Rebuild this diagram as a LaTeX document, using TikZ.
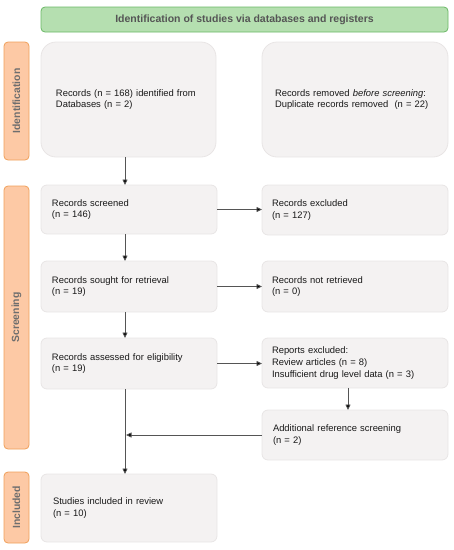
\documentclass[tikz,border=0pt]{standalone}
\usepackage{fontspec}
\setmainfont{Liberation Sans}
\usetikzlibrary{arrows.meta,calc}
\definecolor{boxfill}{HTML}{F4F2F2}
\definecolor{boxline}{HTML}{E8E5E5}
\definecolor{hdrfill}{HTML}{B5DFB0}
\definecolor{hdrline}{HTML}{6AB866}
\definecolor{sidefill}{HTML}{FDC9A5}
\definecolor{sideline}{HTML}{F0A05A}
\definecolor{lbl}{HTML}{555555}
\definecolor{arr}{HTML}{555555}
\begin{document}
\begin{tikzpicture}[x=1pt,y=-1pt,
  box/.style={draw=boxline, fill=boxfill, line width=0.8pt, rounded corners=6pt,
    anchor=north west, align=left, inner ysep=0pt, outer sep=0pt,
    font=\fontsize{9.4}{11.7}\selectfont, text=black!90},
  side/.style={draw=sideline, fill=sidefill, line width=0.8pt, rounded corners=4pt},
  sidetxt/.style={rotate=90, font=\fontsize{10.4}{12}\selectfont\bfseries, text=lbl!85},
  conn/.style={draw=arr, line width=0.8pt, -{Triangle[length=5.5pt,width=5pt,fill=black]}}
]
\useasboundingbox (0,0) rectangle (454,550);
\coordinate (cl) at (125,0);
\coordinate (cr) at (348,0);
% header
\node[draw=hdrline, fill=hdrfill, line width=0.8pt, rounded corners=4pt, anchor=north west,
  minimum width=407pt, minimum height=25pt, inner sep=0pt, outer sep=0pt,
  font=\fontsize{10.5}{12}\selectfont\bfseries, text=lbl] (hdr) at (41,7)
  {Identification of studies via databases and registers};
% side labels
\draw[side] (4,42) rectangle (29,160);
\node[sidetxt] (sid) at (16.5,101) {Identification};
\draw[side] (4,186) rectangle (29,449);
\node[sidetxt] (sscr) at (16.5,317.5) {Screening};
\draw[side] (4,472) rectangle (29,543);
\node[sidetxt] (sinc) at (16.5,507.5) {Included};
% boxes
\node[box, rounded corners=15pt, text width=145pt, inner xsep=15pt, minimum height=115pt] (id1) at (41,42)
  {Records (n = 168) identified from\\Databases (n = 2)};
\node[box, rounded corners=15pt, text width=160pt, inner xsep=13pt, minimum height=115pt] (id2) at (262,42)
  {Records removed \textit{before screening}:\\Duplicate records removed\ \ (n = 22)};
\node[box, text width=154pt, inner xsep=11pt, minimum height=49pt] (scr) at (41,185)
  {Records screened\\(n = 146)};
\node[box, text width=166pt, inner xsep=10pt, minimum height=50pt] (exc) at (262,185)
  {Records excluded\\(n = 127)};
\node[box, text width=154pt, inner xsep=11pt, minimum height=51pt] (sought) at (41,261)
  {Records sought for retrieval\\(n = 19)};
\node[box, text width=166pt, inner xsep=10pt, minimum height=51pt] (notret) at (262,261)
  {Records not retrieved\\(n = 0)};
\node[box, text width=154pt, inner xsep=11pt, minimum height=51pt] (assess) at (41,338)
  {Records assessed for eligibility\\(n = 19)};
\node[box, text width=166pt, inner xsep=10pt, minimum height=50pt] (rep) at (262,338)
  {Reports excluded:\\Review articles (n = 8)\\Insufficient drug level data (n = 3)};
\node[box, text width=164pt, inner xsep=11pt, minimum height=50pt] (addl) at (262,410)
  {Additional reference screening\\(n = 2)};
\node[box, text width=152pt, inner xsep=12pt, minimum height=68pt] (incl) at (41,474)
  {Studies included in review\\(n = 10)};
% connectors
\draw[conn] (id1.south -| cl) -- (scr.north -| cl);
\draw[conn] (scr.east) -- (exc.west |- scr.east);
\draw[conn] (scr.south -| cl) -- (sought.north -| cl);
\draw[conn] (sought.east) -- (notret.west |- sought.east);
\draw[conn] (sought.south -| cl) -- (assess.north -| cl);
\draw[conn] (assess.east) -- (rep.west |- assess.east);
\draw[conn] (rep.south -| cr) -- (addl.north -| cr);
\draw[conn] (assess.south -| cl) -- (incl.north -| cl);
\draw[conn] (addl.west) -- ($(addl.west -| cl)+(1,0)$);
\end{tikzpicture}
\end{document}
